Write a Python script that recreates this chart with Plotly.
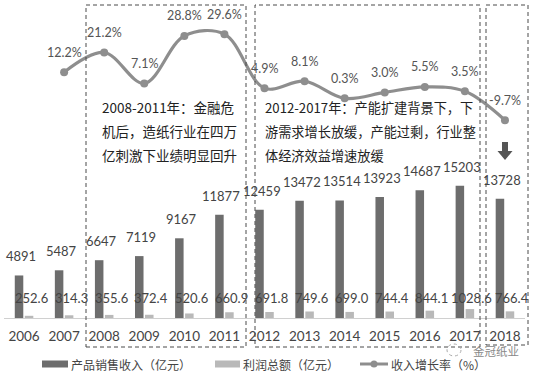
import plotly.graph_objects as go
from plotly.subplots import make_subplots

years = ["2006", "2007", "2008", "2009", "2010", "2011", "2012",
         "2013", "2014", "2015", "2016", "2017", "2018"]
revenue = [4891, 5487, 6647, 7119, 9167, 11877, 12459,
           13472, 13514, 13923, 14687, 15203, 13728]
profit = [252.6, 314.3, 355.6, 372.4, 520.6, 660.9, 691.8,
          749.6, 699.0, 744.4, 844.1, 1028.6, 766.4]
growth_years = years[1:]
growth = [12.2, 21.2, 7.1, 28.8, 29.6, 4.9, 8.1, 0.3, 3.0, 5.5, 3.5, -9.7]

rev_name = "产品销售收入（亿元）"
pro_name = "利润总额（亿元）"
gro_name = "收入增长率（%）"

note1 = ["2008-2011年：金融危", "机后，造纸行业在四万", "亿刺激下业绩明显回升"]
note2 = ["2012-2017年：产能扩建背景下，下", "游需求增长放缓，产能过剩，行业整", "体经济效益增速放缓"]
brand = "金冠纸业"

W, H = 544, 373
ML, MR, MT, MB = 4, 19, 5, 55
PW, PH = W - ML - MR, H - MT - MB

REV_C, PRO_C, GRO_C = "#6d6d6d", "#b9b9b9", "#8e8e8e"


def px_x(px):
    return (px - ML) / PW


def px_y(py):
    return (H - MB - py) / PH


FONT = "Lato, 'Noto Sans CJK SC', sans-serif"
CJK = "'Noto Sans CJK SC', sans-serif"

fig = make_subplots(specs=[[{"secondary_y": True}]])
fig.add_trace(go.Bar(x=years, y=revenue, name=rev_name,
                     marker=dict(color=REV_C, line=dict(width=0))),
              secondary_y=False)
fig.add_trace(go.Bar(x=years, y=profit, name=pro_name,
                     marker=dict(color=PRO_C, line=dict(width=0))),
              secondary_y=False)
fig.add_trace(go.Scatter(x=growth_years, y=growth, name=gro_name,
                         mode="lines+markers",
                         line=dict(color=GRO_C, width=3.2, shape="spline", smoothing=1),
                         marker=dict(color=GRO_C, size=8)),
              secondary_y=True)

ann = []
for i, v in enumerate(revenue):
    ann.append(dict(x=i, y=v, xref="x", yref="y", text=str(v), showarrow=False,
                    yanchor="bottom", yshift=9, xshift=-3,
                    font=dict(size=13, color="#444", family=FONT)))
for i, v in enumerate(profit):
    ann.append(dict(x=i, y=px_y(298), xref="x", yref="paper", text=f"{v:.1f}",
                    showarrow=False, yanchor="middle", xshift=7,
                    font=dict(size=13, color="#444", family=FONT)))
for i, v in enumerate(growth):
    ann.append(dict(x=i + 1, y=v, xref="x", yref="y2", text=f"{v:.1f}%",
                    showarrow=False, yanchor="middle", yshift=20,
                    font=dict(size=12.5, color="#555", family=FONT)))
for i, line in enumerate(note1):
    ann.append(dict(x=px_x(100), y=px_y(107 + 24 * i), xref="paper", yref="paper",
                    text=line, showarrow=False, xanchor="left", yanchor="middle",
                    font=dict(size=13.5, color="#222", family=CJK)))
for i, line in enumerate(note2):
    ann.append(dict(x=px_x(263), y=px_y(107 + 24 * i), xref="paper", yref="paper",
                    text=line, showarrow=False, xanchor="left", yanchor="middle",
                    font=dict(size=13.2, color="#222", family=CJK)))
ann.append(dict(x=px_x(496), y=px_y(351), xref="paper", yref="paper", text=brand,
                showarrow=False, xanchor="center", yanchor="middle",
                font=dict(size=11.5, color="#888", family=CJK)))

shapes = []
for x0, x1, y1 in [(86, 246, 347), (255, 480, 347), (486, 528, 345)]:
    shapes.append(dict(type="rect", xref="paper", yref="paper",
                       x0=px_x(x0), x1=px_x(x1), y0=px_y(y1), y1=px_y(5),
                       line=dict(color="#4a4a4a", width=1, dash="4px,3px"),
                       fillcolor="rgba(0,0,0,0)", layer="above"))
# small round logo next to the brand text
shapes.append(dict(type="circle", xref="paper", yref="paper",
                   x0=px_x(447), x1=px_x(461), y0=px_y(356), y1=px_y(344),
                   line=dict(color="#aaa", width=1, dash="dot"), fillcolor="rgba(0,0,0,0)"))
# down arrow in the 2018 box
ax, at, ab = 505, 142, 160
path = (f"M{px_x(ax-3)},{px_y(at)} L{px_x(ax+3)},{px_y(at)} L{px_x(ax+3)},{px_y(151)} "
        f"L{px_x(ax+7.5)},{px_y(151)} L{px_x(ax)},{px_y(ab)} L{px_x(ax-7.5)},{px_y(151)} "
        f"L{px_x(ax-3)},{px_y(151)} Z")
shapes.append(dict(type="path", xref="paper", yref="paper", path=path,
                   fillcolor="#555", line=dict(width=0)))

# legend drawn manually (swatch + label)
LY = 364
legend_items = [(42, 68, rev_name, REV_C, "bar"),
                (215, 240, pro_name, PRO_C, "bar"),
                (360, 388, gro_name, GRO_C, "line")]
for x0, x1, name, col, kind in legend_items:
    if kind == "bar":
        shapes.append(dict(type="rect", xref="paper", yref="paper",
                           x0=px_x(x0), x1=px_x(x1), y0=px_y(LY + 3.5), y1=px_y(LY - 3.5),
                           fillcolor=col, line=dict(width=0)))
    else:
        shapes.append(dict(type="line", xref="paper", yref="paper",
                           x0=px_x(x0), x1=px_x(x1), y0=px_y(LY), y1=px_y(LY),
                           line=dict(color=col, width=3)))
        cx = (x0 + x1) / 2
        shapes.append(dict(type="circle", xref="paper", yref="paper",
                           x0=px_x(cx - 3.5), x1=px_x(cx + 3.5), y0=px_y(LY + 3.5), y1=px_y(LY - 3.5),
                           fillcolor=col, line=dict(width=0)))
    ann.append(dict(x=px_x(x1 + 1), y=px_y(LY), xref="paper", yref="paper", text=name,
                    showarrow=False, xanchor="left", yanchor="middle",
                    font=dict(size=12, color="#444", family=CJK)))

fig.update_layout(
    width=W, height=H,
    margin=dict(l=ML, r=MR, t=MT, b=MB, autoexpand=False),
    paper_bgcolor="white", plot_bgcolor="white",
    barmode="group", bargap=0.5, bargroupgap=0.15,
    font=dict(family=FONT, color="#444"),
    annotations=ann, shapes=shapes,
    showlegend=False,
)
fig.update_xaxes(type="category", showline=True, linecolor="#d0d0d0", linewidth=1,
                 ticks="", showgrid=False, tickfont=dict(size=13.5, color="#444", family=FONT),
                 ticklabelstandoff=6, range=[-0.5, 12.5], domain=[0, 1])
fig.update_yaxes(visible=False, range=[0, PH * 115], secondary_y=False)
fig.update_yaxes(visible=False, range=[-100, 42.9], secondary_y=True)

fig.write_html("out.html", config={"displayModeBar": False},
               post_script="document.body.style.margin='0';document.body.style.overflow='hidden';")
